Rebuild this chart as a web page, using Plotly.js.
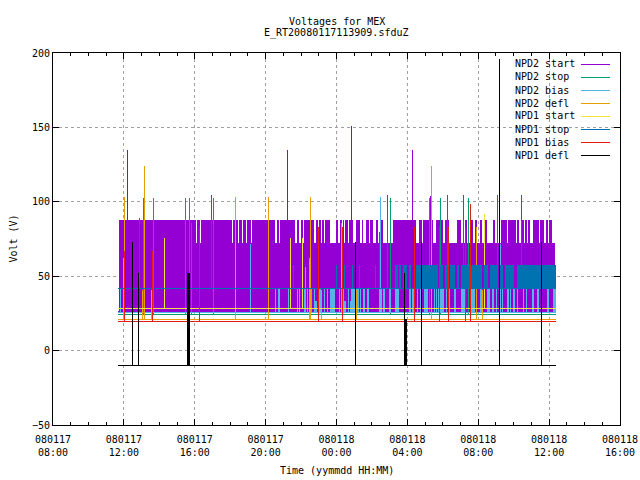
<!DOCTYPE html>
<html><head><meta charset="utf-8">
<script src="https://cdn.plot.ly/plotly-3.0.1.min.js"></script>
<style>html,body{margin:0;padding:0;background:#fff}#chart svg path{shape-rendering:crispEdges}</style></head><body>
<div id="chart" style="width:640px;height:480px"></div>
<script>
// Time is in hours from 080117 00:00
const tickHours=[8,12,16,20,24,28,32,36,40];
const tickDates=["080117","080117","080117","080117","080118","080118","080118","080118","080118"];
const tickTimes=["08:00","12:00","16:00","20:00","00:00","04:00","08:00","12:00","16:00"];
const seriesNames=["NPD2 start","NPD2 stop","NPD2 bias","NPD2 defl","NPD1 start","NPD1 stop","NPD1 bias","NPD1 defl"];
const seriesColors=["#9400d3","#009e73","#56b4e9","#e69f00","#f0e442","#0072b2","#e51e10","#000000"];
const timeStart=11.69, timeEnd=36.37;

// NPD2 start
const start2Base=26, start2Mid=72.3, start2High=87.7;
const start2MidBlock=[[11.75,36.31]];
const start2HighBlocks=[[11.75,16.08],[16.14,16.31],[16.37,18.11],[18.17,18.45],[18.51,18.68],[18.73,18.90],[18.96,19.18],[19.24,20.54],[20.65,20.76],[20.82,21.66],[21.78,21.89],[22.00,22.11],[22.17,22.23],[22.28,22.73],[22.85,22.90],[23.01,23.13],[23.18,23.30],[23.35,23.63],[23.97,24.08],[24.20,24.31],[24.37,24.42],[24.48,24.65],[24.70,24.93],[25.10,25.32],[25.44,25.49],[25.66,25.83],[25.89,26.06],[26.28,26.34],[26.56,26.62],[27.18,28.48],[28.65,28.82],[28.87,29.44],[29.61,30.00],[30.11,30.34],[30.85,30.90],[30.96,31.01],[31.24,31.35],[31.63,31.69],[31.86,31.91],[32.14,32.20],[32.42,32.48],[32.87,32.93],[33.27,33.61],[33.66,34.11],[34.23,34.28],[34.51,34.56],[34.62,34.73],[34.85,34.90],[35.07,35.30],[35.35,35.41],[35.52,35.58],[35.63,35.69],[35.80,35.92],[35.97,36.14]];
const start2SpikeT=[12.23,21.24,24.85,28.28,29.30];
const start2SpikeV=[135,135,151,135,104];

// NPD2 stop
const stop2Base=24.6;
const stop2SpikeT=[13.13,13.69,15.49,15.72,15.83,17.07,27.04,29.24,29.86,31.44];
const stop2SpikeV=[102.6,102.6,102.6,102.6,86,102.6,102.6,102.6,102.6,102.6];

// NPD2 bias
const bias2Base=25.5, bias2High=41.5, bias2Low=33;
const bias2HighBlocks=[[11.83,11.83],[20.56,20.56],[20.71,20.82],[21.30,21.30],[21.80,21.80],[21.92,21.92],[22.17,22.28],[22.37,22.37],[22.51,22.62],[22.76,22.76],[23.01,23.13],[23.32,23.32],[23.49,23.49],[23.63,23.92],[24.17,24.17],[24.37,24.37],[24.65,24.65],[24.82,25.27],[25.35,25.35],[25.49,25.61],[25.72,25.83],[26.39,26.56],[26.62,26.73],[26.96,27.07],[27.30,27.52],[28.08,28.20],[28.25,28.37],[28.56,28.56],[28.73,28.73],[28.93,29.15],[29.52,29.52],[29.63,29.63],[29.75,29.75],[29.83,30.06],[30.20,30.20],[30.37,30.37],[30.62,30.73],[31.01,31.24],[31.58,31.80],[32.08,32.20],[32.48,32.65],[32.76,32.87],[33.01,33.01],[33.35,33.35],[33.61,33.72],[33.80,33.80],[33.94,34.06],[34.20,34.20],[34.54,34.54],[34.70,34.70],[35.01,35.13],[35.30,35.41],[35.86,35.97],[36.20,36.37]];
const bias2LowBlocks=[[22.79,22.90],[24.42,24.53],[24.76,24.87],[29.38,29.38],[34.23,34.23],[34.73,34.73]];
const bias2SpikeT=[19.15,26.48,33.24,22.23,25.10,24.31];
const bias2SpikeV=[71.6,103.2,71.6,56,71.6,86];

// NPD2 defl
const defl2Base=21;
const defl2SpikeT=[12.06,13.18,18.31,20.17,22.54,29.35,31.89,12.00,13.04,13.55,22.48,23.13,25.15,32.25];
const defl2SpikeV=[103,124,103,103,103,124,83,62,41,41,62,41,41,41];

// NPD1 start
const start1Base=28.4;
const start1SpikeT=[14.31,21.41,22.08,32.34];
const start1SpikeV=[75.7,75.7,75.7,92];

// NPD1 stop
const stop1Base=42, stop1High=57.5;
const stop1HighBlocks=[[21.58,21.58],[24.00,24.00],[24.45,24.45],[24.90,24.90],[25.30,25.30],[26.20,26.20],[27.30,27.46],[27.52,27.63],[27.75,27.97],[28.08,28.20],[28.48,29.72],[29.83,30.00],[30.11,30.28],[30.39,30.68],[30.79,30.90],[31.01,32.20],[32.31,32.54],[32.65,33.10],[33.21,33.38],[33.49,34.00],[34.17,36.37]];
const stop1SpikeT=[12.90,16.96,26.87,30.25,31.15,33.07,34.42,26.42];
const stop1SpikeV=[89,104.5,104.5,104.5,104.5,104.5,104.5,80];

// NPD1 bias
const bias1Base=19.7;
const bias1SpikeT=[12.06,13.63,16.25,22.99,24.34,28.39,29.80,30.31,31.27,31.55];
const bias1SpikeV=[67,67,83,83,83,83,83,83,83,98.5];

// NPD1 defl
const defl1Base=-10;
const defl1SpikeT=[12.51,12.85,15.58,15.63,15.69,25.07,27.83,27.89,27.94,28.79,33.18,35.55];
const defl1SpikeV=[73,52,52,52,52,73,52,21,21,73,196,73];

const strokeInset=0.028;
function build(base,groups,spikeT,spikeV){
  const x=[timeStart,timeEnd,null], y=[base,base,null];
  groups.forEach(g=>g.blocks.forEach(b=>{
    const inset=(b[1]-b[0])>0.1?strokeInset:0;
    const a=b[0]+inset, c=b[1]-inset;
    x.push(a,a,c,c,null);
    y.push(g.lo,g.hi,g.hi,g.lo,null);
  }));
  spikeT.forEach((t,i)=>{x.push(t,t,null);y.push(base,spikeV[i],null);});
  return {x,y};
}
const parts=[
 build(start2Base,[{blocks:start2MidBlock,lo:start2Base,hi:start2Mid},{blocks:start2HighBlocks,lo:start2Base,hi:start2High}],start2SpikeT,start2SpikeV),
 build(stop2Base,[],stop2SpikeT,stop2SpikeV),
 build(bias2Base,[{blocks:bias2HighBlocks,lo:bias2Base,hi:bias2High},{blocks:bias2LowBlocks,lo:bias2Base,hi:bias2Low}],bias2SpikeT,bias2SpikeV),
 build(defl2Base,[],defl2SpikeT,defl2SpikeV),
 build(start1Base,[],start1SpikeT,start1SpikeV),
 build(stop1Base,[{blocks:stop1HighBlocks,lo:stop1Base,hi:stop1High}],stop1SpikeT,stop1SpikeV),
 build(bias1Base,[],bias1SpikeT,bias1SpikeV),
 build(defl1Base,[],defl1SpikeT,defl1SpikeV)
];
const traces=parts.map((p,i)=>({
  type:'scatter',mode:'lines',name:seriesNames[i],x:p.x,y:p.y,
  fill:'toself',fillcolor:seriesColors[i],
  line:{color:seriesColors[i],width:1,simplify:false},hoverinfo:'skip',connectgaps:false
}));
const FONT="'DejaVu Sans Mono', monospace";
const font={family:FONT,size:10,color:'#000'};
const annotations=seriesNames.map((n,i)=>({
  xref:'paper',yref:'paper',x:(514-52.5)/568,y:1-(64+13*i-53)/372,xanchor:'left',yanchor:'middle',
  text:n,showarrow:false,font,borderpad:0
}));
annotations.push({xref:'paper',yref:'paper',x:0.5,y:1-(471-53)/372,xanchor:'center',yanchor:'middle',text:"Time (yymmdd HH:MM)",showarrow:false,font});
annotations.push({xref:'paper',yref:'paper',x:(12-52.5)/568,y:1-(239-53)/372,xanchor:'center',yanchor:'middle',text:"Volt (V)",textangle:-90,showarrow:false,font});
annotations.push({xref:'paper',yref:'paper',x:0.5,y:1+(53-21)/372,xanchor:'center',yanchor:'middle',text:"Voltages for MEX",showarrow:false,font});
annotations.push({xref:'paper',yref:'paper',x:0.5,y:1+(53-33)/372,xanchor:'center',yanchor:'middle',text:"E_RT20080117113909.sfduZ",showarrow:false,font});
const shapes=seriesColors.map((c,i)=>({
  type:'line',xref:'paper',yref:'paper',x0:(581-52.5)/568,x1:(610-52.5)/568,
  y0:1-(64+13*i-53)/372,y1:1-(64+13*i-53)/372,line:{color:c,width:1}
}));
const grid={showgrid:true,gridcolor:'#a0a0a0',griddash:'3px,3px',gridwidth:1,zeroline:false,
  showline:true,linecolor:'#000',linewidth:1,mirror:'allticks',ticks:'inside',ticklen:6,tickcolor:'#000',tickwidth:1,tickfont:font,ticklabeloverflow:'allow'};
const layout={
  width:640,height:480,margin:{l:52.5,r:19.5,t:53,b:55,pad:0},paper_bgcolor:'#fff',plot_bgcolor:'#fff',
  showlegend:false,font,annotations,shapes,
  xaxis:Object.assign({},grid,{range:[8,40],tickmode:'array',tickvals:tickHours,ticklabelstandoff:5,
    ticktext:tickHours.map((h,i)=>tickDates[i]+"<br>"+tickTimes[i]),
    minor:{dtick:1,tick0:0,ticks:'inside',ticklen:3,tickcolor:'#000',tickwidth:1,showgrid:false}}),
  yaxis:Object.assign({},grid,{range:[-50,200],tickmode:'linear',tick0:-50,dtick:50})
};
Plotly.newPlot('chart',traces,layout,{displayModeBar:false,staticPlot:true});
</script></body></html>
